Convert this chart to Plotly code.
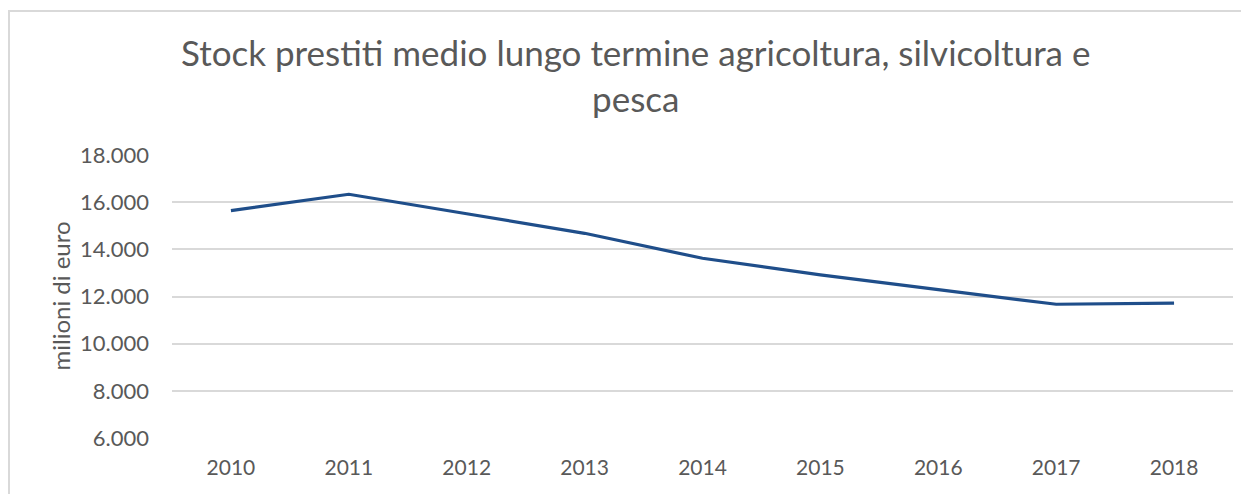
import plotly.graph_objects as go

# data
anni = ["2010", "2011", "2012", "2013", "2014", "2015", "2016", "2017", "2018"]
stock_prestiti = [15640, 16335, 15510, 14680, 13620, 12915, 12290, 11672, 11715]
tick_valori = [6000, 8000, 10000, 12000, 14000, 16000, 18000]
tick_testi = ["6.000", "8.000", "10.000", "12.000", "14.000", "16.000", "18.000"]

titolo = "Stock prestiti medio lungo termine agricoltura, silvicoltura e<br>pesca"
titolo_y = "milioni di euro"

# the page body has an 8px margin, so the figure is 8px smaller
W, H = 1241, 486
L, R, T, B = 164, 16, 147, 56
pw = W - L - R
ph = H - T - B

grigio = "#595959"
font = "Lato, 'Open Sans', sans-serif"

fig = go.Figure()
fig.add_trace(go.Scatter(
    x=anni, y=stock_prestiti, mode="lines",
    line=dict(color="#1F4E8A", width=3.2),
    hoverinfo="x+y", showlegend=False,
))

fig.update_layout(
    width=W, height=H,
    margin=dict(l=L, r=R, t=T, b=B, autoexpand=False),
    paper_bgcolor="white", plot_bgcolor="white",
    font=dict(family=font, color=grigio, size=21),
    xaxis=dict(
        type="category", range=[-0.5, 8.5],
        showgrid=False, zeroline=False, showline=False,
        ticks="", ticklabelstandoff=15,
        tickfont=dict(size=21, color=grigio),
        automargin=False,
    ),
    yaxis=dict(
        range=[6000, 18000], tickvals=tick_valori, ticktext=tick_testi,
        showgrid=True, gridcolor="#D9D9D9", gridwidth=1.5,
        zeroline=False, showline=False, ticks="",
        ticklabelstandoff=22,
        tickfont=dict(size=22, color=grigio),
        automargin=False,
    ),
)

# titolo (two lines, centred on the chart frame)
fig.add_annotation(
    text=titolo, showarrow=False,
    xref="paper", yref="paper",
    x=(627 - L) / pw, xanchor="center",
    y=(H - B - 21) / ph, yanchor="top",
    font=dict(family=font, size=35, color=grigio),
)

# y-axis title
fig.add_annotation(
    text=titolo_y, showarrow=False, textangle=-90,
    xref="paper", yref="paper",
    x=(52 - L) / pw, xanchor="center",
    y=0.5, yanchor="middle",
    font=dict(family=font, size=24, color=grigio),
)

# chart frame border
fig.add_shape(
    type="rect", xref="paper", yref="paper",
    x0=(1 - L) / pw, x1=(W + 20 - L) / pw,
    y0=-(B + 20) / ph, y1=(H - B - 3) / ph,
    line=dict(color="#D9D9D9", width=2), fillcolor="rgba(0,0,0,0)",
    layer="below",
)

fig.write_html("out.html")
